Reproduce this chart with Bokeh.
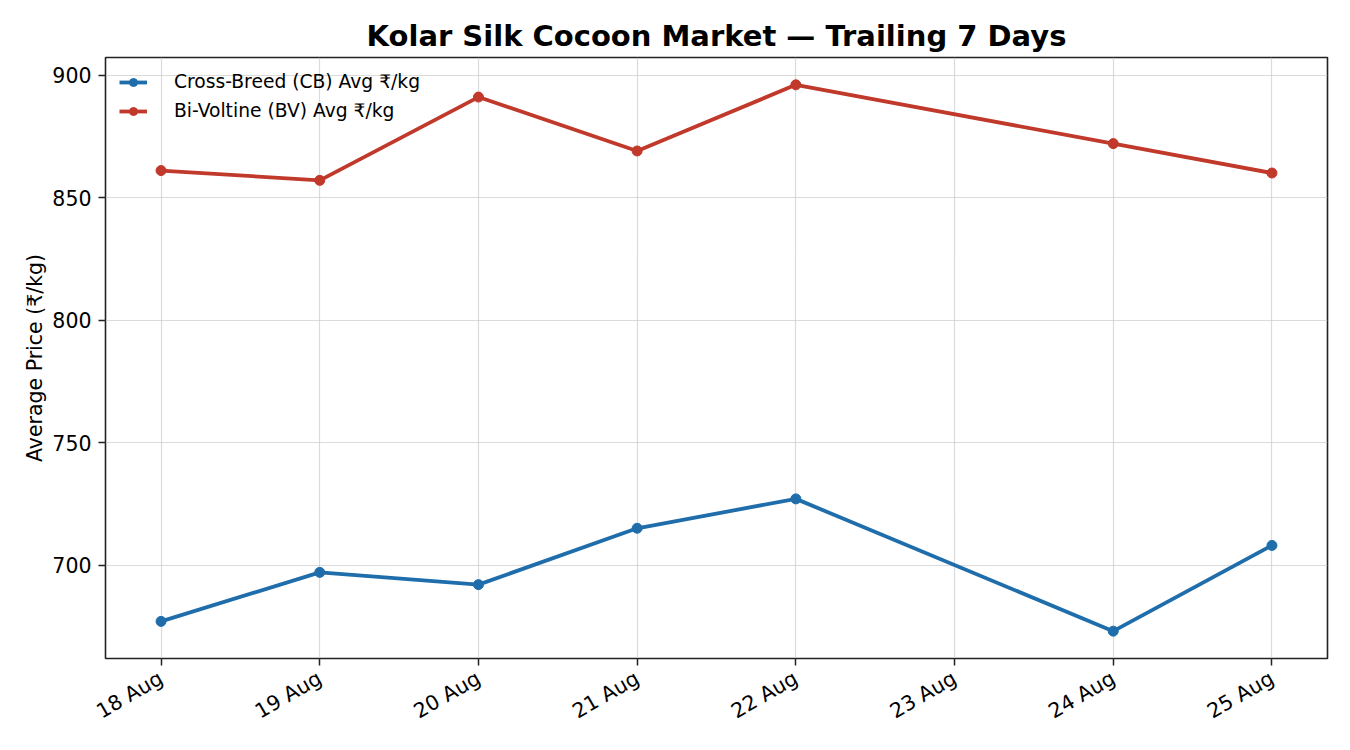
from datetime import datetime
from bokeh.plotting import figure
from bokeh.models import DaysTicker, DatetimeTickFormatter, Range1d, Legend, LegendItem
from bokeh.embed import file_html
from bokeh.resources import INLINE
import math

dates = ["2024-08-18", "2024-08-19", "2024-08-20", "2024-08-21", "2024-08-22", "2024-08-24", "2024-08-25"]
cb_prices = [677, 697, 692, 715, 727, 673, 708]
bv_prices = [861, 857, 891, 869, 896, 872, 860]
cb_label = "Cross-Breed (CB) Avg ₹/kg"
bv_label = "Bi-Voltine (BV) Avg ₹/kg"
title_text = "Kolar Silk Cocoon Market — Trailing 7 Days"
y_label = "Average Price (₹/kg)"

x = [datetime.strptime(d, "%Y-%m-%d") for d in dates]
CB_COLOR = "#1f6eab"
BV_COLOR = "#c0392b"
FONT = "DejaVu Sans"

# matplotlib-like 5% margins
xmin = min(x).timestamp() * 1000
xmax = max(x).timestamp() * 1000
xpad = (xmax - xmin) * 0.05
allv = cb_prices + bv_prices
ymin, ymax = min(allv), max(allv)
ypad = (ymax - ymin) * 0.05

p = figure(width=1342, height=742, x_axis_type="datetime", output_backend="svg",
           toolbar_location=None,
           x_range=Range1d(xmin - xpad, xmax + xpad),
           y_range=Range1d(ymin - ypad, ymax + ypad),
           min_border_left=105, min_border_right=15, min_border_top=57, min_border_bottom=84)

p.title.text = title_text
p.title.align = "center"
p.title.text_font = FONT
p.title.text_font_size = "29px"
p.title.text_font_style = "bold"
p.title.text_color = "black"
p.title.offset = 0
p.title.standoff = 9

p.outline_line_color = "#222222"
p.outline_line_width = 1.6
p.outline_line_alpha = 1

for ax in (p.xaxis[0], p.yaxis[0]):
    ax.axis_line_color = None
    ax.major_tick_line_color = "#222222"
    ax.major_tick_line_width = 1.5
    ax.major_tick_out = 7
    ax.major_tick_in = 0
    ax.minor_tick_line_color = None
    ax.major_label_text_font = FONT
    ax.major_label_text_font_size = "20.5px"
    ax.major_label_text_color = "black"

p.xaxis.ticker = DaysTicker(days=list(range(1, 32)))
p.xaxis.formatter = DatetimeTickFormatter(days="%d %b", months="%d %b")
p.xaxis.major_label_orientation = math.pi / 6
p.xaxis.major_label_standoff = 11

p.yaxis.ticker = [700, 750, 800, 850, 900]
p.yaxis.axis_label = y_label
p.yaxis.axis_label_text_font = FONT
p.yaxis.axis_label_text_font_size = "20.5px"
p.yaxis.axis_label_text_font_style = "normal"
p.yaxis.axis_label_text_color = "black"
p.yaxis.axis_label_standoff = 2
p.yaxis.major_label_standoff = 7

p.grid.grid_line_color = "#c8c8c8"
p.grid.grid_line_alpha = 0.65
p.grid.grid_line_width = 1.2

l1 = p.line(x, cb_prices, line_color=CB_COLOR, line_width=3.8)
c1 = p.scatter(x, cb_prices, size=10, fill_color=CB_COLOR, line_color=CB_COLOR)
l2 = p.line(x, bv_prices, line_color=BV_COLOR, line_width=3.8)
c2 = p.scatter(x, bv_prices, size=10, fill_color=BV_COLOR, line_color=BV_COLOR)

legend = Legend(items=[LegendItem(label=cb_label, renderers=[l1, c1]),
                       LegendItem(label=bv_label, renderers=[l2, c2])],
                location="top_left")
legend.border_line_alpha = 0
legend.background_fill_alpha = 0
legend.label_text_font = FONT
legend.label_text_font_size = "18.7px"
legend.label_text_color = "black"
legend.glyph_width = 28
legend.glyph_height = 20
legend.spacing = 8
legend.padding = 4
legend.margin = 10
legend.label_standoff = 27
p.add_layout(legend)

open("out.html", "w").write(file_html(p, INLINE))
